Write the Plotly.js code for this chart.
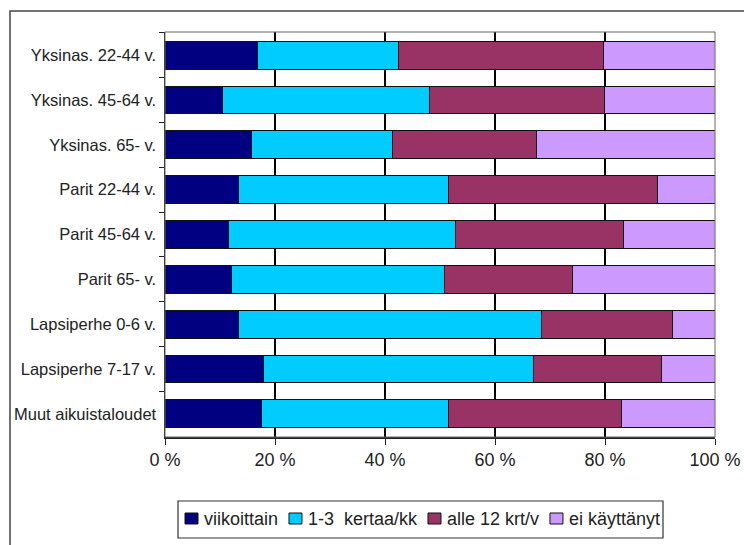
<!DOCTYPE html>
<html>
<head>
<meta charset="utf-8">
<script src="https://cdn.plot.ly/plotly-3.0.1.min.js"></script>
<style>
html,body{margin:0;padding:0;background:#fff;}
#chart{width:744px;height:545px;}
</style>
</head>
<body>
<div id="chart"></div>
<script>
const categories = ["Yksinas. 22-44 v.", "Yksinas. 45-64 v.", "Yksinas. 65- v.", "Parit 22-44 v.", "Parit 45-64 v.", "Parit 65- v.", "Lapsiperhe 0-6 v.", "Lapsiperhe 7-17 v.", "Muut aikuistaloudet"];
const seriesNames = ["viikoittain", "1-3  kertaa/kk", "alle 12 krt/v", "ei käyttänyt"];
const viikoittain = [16.8, 10.4, 15.7, 13.4, 11.5, 12.0, 13.4, 17.9, 17.6];
const kertaaKk   = [25.6, 37.7, 25.7, 38.1, 41.3, 38.9, 55.1, 49.1, 34.0];
const alle12     = [37.3, 31.8, 26.2, 38.0, 30.5, 23.2, 23.7, 23.2, 31.4];
const eiKaytt    = [20.3, 20.1, 32.4, 10.5, 16.7, 25.9,  7.8,  9.8, 17.0];
const tickVals = [0, 20, 40, 60, 80, 100];
const tickText = ["0 %", "20 %", "40 %", "60 %", "80 %", "100 %"];

const colors = ["#000080", "#00CCFF", "#993366", "#CC99FF"];
const seriesData = [viikoittain, kertaaKk, alle12, eiKaytt];
const FONT = "Liberation Sans, Arial, sans-serif";

const traces = seriesData.map((vals, i) => ({
  type: "bar",
  orientation: "h",
  name: seriesNames[i],
  y: categories,
  x: vals,
  marker: {color: colors[i], line: {color: "#111", width: 1}},
  showlegend: false
}));

// plot area in pixels: x 165..715, y 32..437
const L = 165, R = 715, T = 32, B = 437;
const W = R - L, H = B - T;
const px = v => (v - L) / W;
const py = v => (B - v) / H;

const shapes = [];
// gridlines at the x ticks, in the subplot layer below the bars
tickVals.slice(1, -1).forEach(v => shapes.push({
  type: "line", xref: "x", yref: "y", x0: v, x1: v,
  y0: -0.5, y1: categories.length - 0.5,
  line: {color: "#000", width: 1.5}, layer: "below"
}));
shapes.push(
  {type: "rect", xref: "paper", yref: "paper", x0: 0, x1: 1, y0: 0, y1: 1,
   line: {color: "#666", width: 1}, fillcolor: "rgba(0,0,0,0)", layer: "above"},
  {type: "rect", xref: "paper", yref: "paper", x0: px(10), x1: px(760), y0: py(560), y1: py(11),
   line: {color: "#444", width: 1.5}, fillcolor: "rgba(0,0,0,0)"}
);

// custom legend layout (Excel style: small squares, tight spacing)
const legFont = 18;
const ctx = document.createElement("canvas").getContext("2d");
ctx.font = legFont + "px 'Liberation Sans'";
const textW = seriesNames.map(s => ctx.measureText(s).width);
const boxL = 178, boxR = 663, boxT = 501, boxB = 538;
const padL = 7, padR = 5, sq = 13, sqGap = 4;
const sumText = textW.reduce((a, b) => a + b, 0);
const itemGap = (boxR - boxL - padL - padR - seriesNames.length * (sq + sqGap) - sumText) / (seriesNames.length - 1);
shapes.push({type: "rect", xref: "paper", yref: "paper", x0: px(boxL), x1: px(boxR), y0: py(boxB), y1: py(boxT),
   line: {color: "#333", width: 1.2}, fillcolor: "#fff"});
const annotations = [];
let cx = boxL + padL;
const midY = 518.5;
seriesNames.forEach((name, i) => {
  shapes.push({type: "rect", xref: "paper", yref: "paper",
    x0: px(cx), x1: px(cx + sq), y0: py(midY + 5.5), y1: py(midY - 5.5),
    line: {color: "#111", width: 1}, fillcolor: colors[i]});
  cx += sq + sqGap;
  annotations.push({xref: "paper", yref: "paper", x: px(cx), y: py(midY + 0.5),
    xanchor: "left", yanchor: "middle", showarrow: false, text: name,
    font: {family: FONT, size: legFont, color: "#222"}});
  cx += textW[i] + itemGap;
});

const layout = {
  width: 744, height: 545,
  margin: {l: L, r: 744 - R, t: T, b: 545 - B, pad: 0},
  paper_bgcolor: "#fff",
  plot_bgcolor: "#fff",
  barmode: "stack",
  bargap: 0.38,
  font: {family: FONT, color: "#222"},
  showlegend: false,
  xaxis: {
    range: [0, 100],
    tickvals: tickVals, ticktext: tickText,
    ticks: "outside", ticklen: 6, tickcolor: "#222",
    showgrid: true, gridcolor: "#000", gridwidth: 1.5,
    showline: true, linecolor: "#222", linewidth: 1.5,
    zeroline: false,
    tickfont: {size: 18, color: "#222"},
    fixedrange: true
  },
  yaxis: {
    type: "category",
    autorange: "reversed",
    tickson: "boundaries",
    ticks: "outside", ticklen: 5, tickcolor: "#222",
    ticklabelstandoff: 4,
    showgrid: false,
    showline: true, linecolor: "#222", linewidth: 1.5,
    zeroline: false,
    tickfont: {size: 16.5, color: "#222"},
    fixedrange: true
  },
  shapes: shapes,
  annotations: annotations
};

Plotly.newPlot("chart", traces, layout, {displayModeBar: false, staticPlot: true});
</script>
</body>
</html>
